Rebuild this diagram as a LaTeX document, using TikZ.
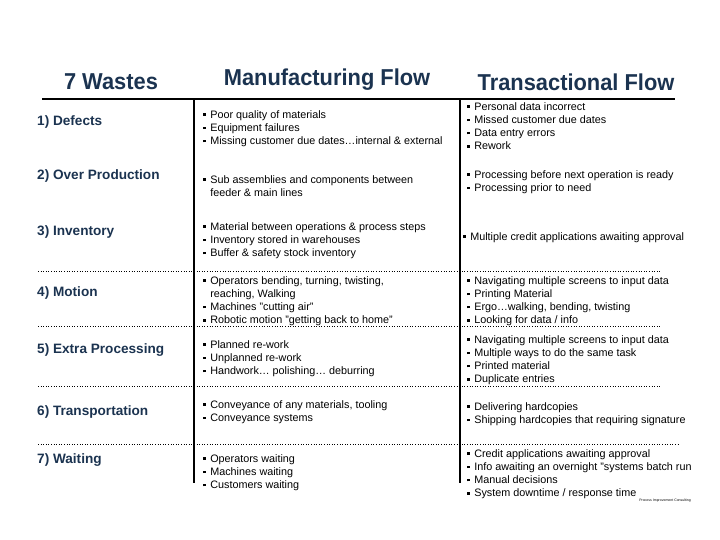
\documentclass[tikz,border=0pt]{standalone}
\usepackage{fontspec}
\setmainfont{Liberation Sans}
\newfontfamily\headf[FakeStretch=0.95]{Liberation Sans}
\definecolor{navy}{HTML}{1B3350}
\newcommand{\B}{\rule[2.2pt]{2.6pt}{2.6pt}\hspace{4.5pt}}
\newcommand{\I}{\hspace*{7.1pt}}
\begin{document}
\begin{tikzpicture}[x=1pt,y=-1pt,
  head/.style={text=navy,font=\headf\bfseries\fontsize{23}{27}\selectfont,inner sep=0},
  lab/.style={text=navy,font=\bfseries\fontsize{13.6}{15}\selectfont,anchor=west,inner sep=0},
  cell/.style={anchor=north west,inner sep=0,align=left,font=\fontsize{10.8}{13.3}\selectfont},
  dots/.style={line width=0.6pt,dotted},
  thick line/.style={line width=2.4pt}]
\useasboundingbox (0,0) rectangle (720,540);
\node[head] (h1) at (111,82) {7 Wastes};
\node[head] (h2) at (327,80) {Manufacturing Flow};
\node[head] (h3) at (576,82) {Transactional Flow};
\coordinate (tl) at (42,99); \coordinate (tr) at (675,99);
\draw[thick line] (tl) -- (tr);
\coordinate (v1t) at (194,99); \coordinate (v1b) at (194,483);
\coordinate (v2t) at (460,99); \coordinate (v2b) at (460,483);
\draw[line width=1.6pt] (v1t) -- (v1b);
\draw[line width=1.6pt] (v2t) -- (v2b);
\foreach \yy/\xe [count=\i] in {271/661,326/661,386/661,444/678}{
  \coordinate (dl\i) at (38,\yy); \coordinate (dr\i) at (\xe,\yy);
  \draw[dots] (dl\i) -- (dr\i);}
\node[lab] (l1) at (37,122) {1) Defects};
\node[lab] (l2) at (37,176) {2) Over Production};
\node[lab] (l3) at (37,232) {3) Inventory};
\node[lab] (l4) at (37,293) {4) Motion};
\node[lab] (l5) at (37,350) {5) Extra Processing};
\node[lab] (l6) at (37,412) {6) Transportation};
\node[lab] (l7) at (37,460) {7) Waiting};
% manufacturing
\node[cell] (m1) at (203,110) {\B Poor quality of materials\\\B Equipment  failures\\\B Missing customer due dates\ldots internal \& external};
\node[cell] (m2) at (203,175) {\B Sub assemblies and components between\\\I feeder \& main lines};
\node[cell] (m3) at (203,222) {\B Material between operations \& process steps\\\B Inventory stored in warehouses\\\B Buffer \& safety stock inventory};
\node[cell] (m4) at (203,276) {\B Operators bending, turning, twisting,\\\I reaching, Walking\\\B Machines "cutting air"\\\B Robotic motion "getting back to home"};
\node[cell] (m5) at (203,340) {\B Planned re-work\\\B Unplanned re-work\\\B Handwork\ldots\ polishing\ldots\ deburring};
\node[cell] (m6) at (203,400) {\B Conveyance of any materials, tooling\\\B Conveyance systems};
\node[cell] (m7) at (203,454) {\B Operators waiting\\\B Machines waiting\\\B Customers waiting};
% transactional
\node[cell] (t1) at (467,102) {\B Personal data incorrect\\\B Missed customer due dates\\\B Data entry errors\\\B Rework};
\node[cell] (t2) at (467,170) {\B Processing before next operation is ready\\\B Processing prior to need};
\node[cell] (t3) at (463,232) {\B Multiple credit applications awaiting approval};
\node[cell] (t4) at (467,276) {\B Navigating multiple screens to input data\\\B Printing Material\\\B Ergo\ldots walking, bending, twisting\\\B Looking for data / info};
\node[cell] (t5) at (467,335) {\B Navigating multiple screens to input data\\\B Multiple ways to do the same task\\\B Printed material\\\B Duplicate entries};
\node[cell] (t6) at (467,402) {\B Delivering hardcopies\\\B Shipping hardcopies that requiring signature};
\node[cell] (t7) at (467,449) {\B Credit applications awaiting approval\\\B Info awaiting an overnight "systems batch run\\\B Manual decisions\\\B System  downtime / response time};
\node[anchor=east,inner sep=0,font=\fontsize{3.5}{4}\selectfont] (fn) at (691,501) {Process Improvement Consulting};
\end{tikzpicture}
\end{document}
